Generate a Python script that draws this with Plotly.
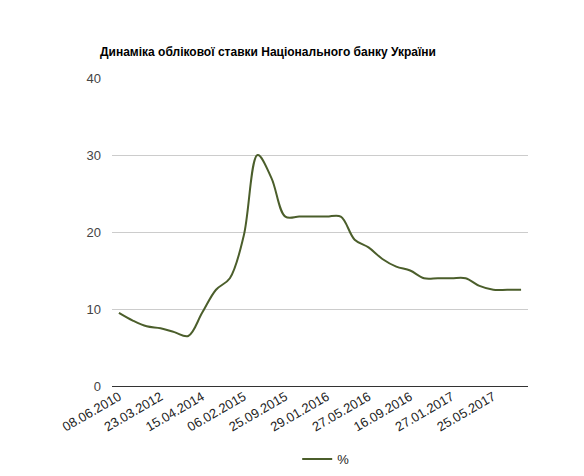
import plotly.graph_objects as go

dates = ["08.06.2010", "08.07.2010", "08.08.2010", "23.03.2012", "10.06.2013", "13.08.2013",
         "15.04.2014", "17.07.2014", "13.11.2014", "06.02.2015", "04.03.2015", "28.08.2015",
         "25.09.2015", "23.10.2015", "11.12.2015", "29.01.2016", "04.03.2016", "22.04.2016",
         "27.05.2016", "24.06.2016", "29.07.2016", "16.09.2016", "28.10.2016", "15.12.2016",
         "27.01.2017", "02.03.2017", "14.04.2017", "25.05.2017", "13.07.2017", "14.09.2017"]
rates = [9.5, 8.5, 7.75, 7.5, 7.0, 6.5,
         9.5, 12.5, 14.0, 19.5, 30.0, 27.0,
         22.0, 22.0, 22.0, 22.0, 22.0, 19.0,
         18.0, 16.5, 15.5, 15.0, 14.0, 14.0,
         14.0, 14.0, 13.0, 12.5, 12.5, 12.5]
y_ticks = [0, 10, 20, 30, 40]
label_step = 3

W, H = 584, 476
L, R, T, B = 112, 528, 78, 386

idx = list(range(len(dates)))
tickvals = idx[::label_step]
ticktext = [dates[i] for i in tickvals]

fig = go.Figure()
fig.add_trace(go.Scatter(
    x=idx, y=rates, mode="lines", name="%",
    line=dict(color="#4b5e2b", width=2, shape="spline", smoothing=1.0),
))

fig.update_layout(
    width=W, height=H,
    margin=dict(l=L, r=W - R, t=T, b=H - B, pad=0, autoexpand=False),
    paper_bgcolor="white", plot_bgcolor="white",
    font=dict(family="Arial, Liberation Sans, sans-serif", size=12, color="#222"),
    title=dict(text="<b>Динаміка облікової ставки Національного банку України</b>",
               x=100 / W, xanchor="left", y=1 - 52 / H, yanchor="middle",
               font=dict(size=12, color="#000")),
    showlegend=True,
    legend=dict(orientation="h", x=300 / W, xanchor="center",
                y=(B - 459) / (B - T), yanchor="middle",
                font=dict(size=13, color="#222"), bgcolor="rgba(0,0,0,0)"),
    xaxis=dict(type="linear", range=[-0.5, len(dates) - 0.5], tickmode="array",
               tickvals=tickvals, ticktext=ticktext, tickangle=-30,
               showgrid=False, zeroline=False, showline=False, ticks="",
               automargin=False,
               tickfont=dict(size=13, color="#222")),
    yaxis=dict(range=[0, 40], tickmode="array", tickvals=y_ticks,
               showgrid=True, gridcolor="#cccccc", gridwidth=1,
               zeroline=True, zerolinecolor="#333333", zerolinewidth=1,
               showline=False, ticks="", ticklabelstandoff=10, automargin=False,
               tickfont=dict(size=13, color="#444")),
)

fig.write_html("out.html")
